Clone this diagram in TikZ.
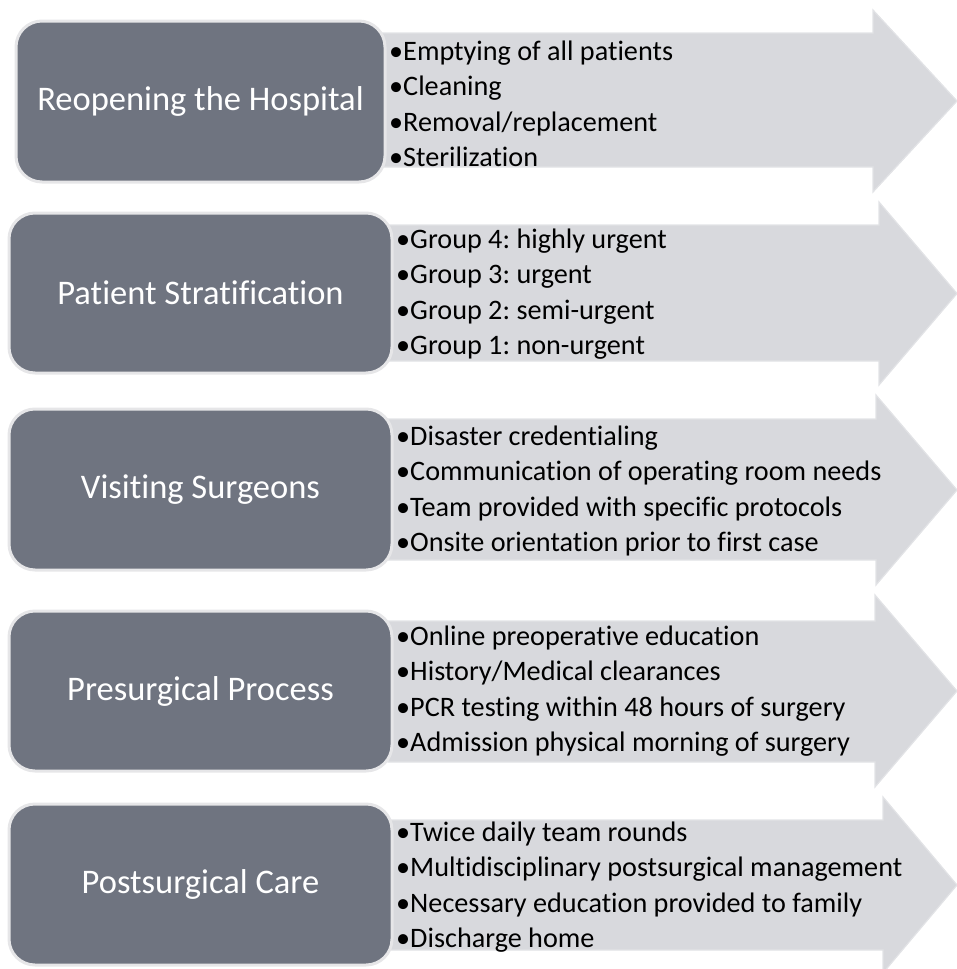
\documentclass[tikz,border=0pt]{standalone}
\usepackage{fontspec}
\setmainfont{Carlito}[Ligatures=NoCommon]
\frenchspacing
\definecolor{boxfill}{HTML}{6F7480}
\definecolor{boxedge}{HTML}{E6E6E8}
\definecolor{arrowfill}{HTML}{D8D9DD}
\definecolor{arrowedge}{HTML}{E2E3E6}
\tikzset{
  titlebox/.style={draw=boxedge, line width=3pt, fill=boxfill, rounded corners=26pt,
    text=white, font=\fontsize{34.5}{40}\selectfont, inner sep=0pt},
  arrowshape/.style={fill=arrowfill, draw=arrowedge, line width=1.2pt, line join=miter},
  bulletline/.style={anchor=base west, inner sep=0pt, font=\fontsize{28.2}{33}\selectfont, text=black}
}
\begin{document}
\begin{tikzpicture}[x=1pt,y=-1pt]
\useasboundingbox (0,0) rectangle (957,969);
\clip (0,0) rectangle (957,969);
% ---------- row 1
\draw[arrowshape] (380,33) -- (873,33) -- (873,10) -- (957,101) -- (873,192) -- (873,167) -- (380,167) -- cycle;
\node[titlebox, minimum width=369pt, minimum height=161pt] (t1) at (200.5,101.5) {Reopening the Hospital};
\foreach \t [count=\i] in {Emptying of all patients, Cleaning, Removal/replacement, Sterilization}
  \node[bulletline] (a\i) at (389, 60+35.5*\i-35.5) {•\t};
% ---------- row 2
\draw[arrowshape] (388,225) -- (879,225) -- (879,202) -- (957,293.5) -- (879,385) -- (879,361) -- (388,361) -- cycle;
\node[titlebox, minimum width=383pt, minimum height=160pt] (t2) at (200.5,293) {Patient Stratification};
\foreach \t [count=\i] in {Group 4: highly urgent, Group 3: urgent, Group 2: semi-urgent, Group 1: non-urgent}
  \node[bulletline] (b\i) at (396, 248+35.5*\i-35.5) {•\t};
% ---------- row 3
\draw[arrowshape] (388,419) -- (876,419) -- (876,395) -- (957,490) -- (876,585) -- (876,560) -- (388,560) -- cycle;
\node[titlebox, minimum width=383pt, minimum height=161pt] (t3) at (200.5,489.5) {Visiting Surgeons};
\foreach \t [count=\i] in {Disaster credentialing, Communication of operating room needs, Team provided with specific protocols, Onsite orientation prior to first case}
  \node[bulletline] (c\i) at (396, 445+35.5*\i-35.5) {•\t};
% ---------- row 4
\draw[arrowshape] (388,621) -- (875,621) -- (875,595) -- (957,691) -- (875,787) -- (875,762) -- (388,762) -- cycle;
\node[titlebox, minimum width=383pt, minimum height=160pt] (t4) at (200.5,691) {Presurgical Process};
\foreach \t [count=\i] in {Online preoperative education, History/Medical clearances, PCR testing within 48 hours of surgery, Admission physical morning of surgery}
  \node[bulletline] (d\i) at (396, 645+35.5*\i-35.5) {•\t};
% ---------- row 5
\draw[arrowshape] (388,820) -- (883,820) -- (883,797) -- (957,885) -- (883,973) -- (883,950) -- (388,950) -- cycle;
\node[titlebox, minimum width=383pt, minimum height=161pt] (t5) at (200.5,884.5) {Postsurgical Care};
\foreach \t [count=\i] in {Twice daily team rounds, Multidisciplinary postsurgical management, Necessary education provided to family, Discharge home}
  \node[bulletline] (e\i) at (396, 841+35.5*\i-35.5) {•\t};
\end{tikzpicture}
\end{document}
